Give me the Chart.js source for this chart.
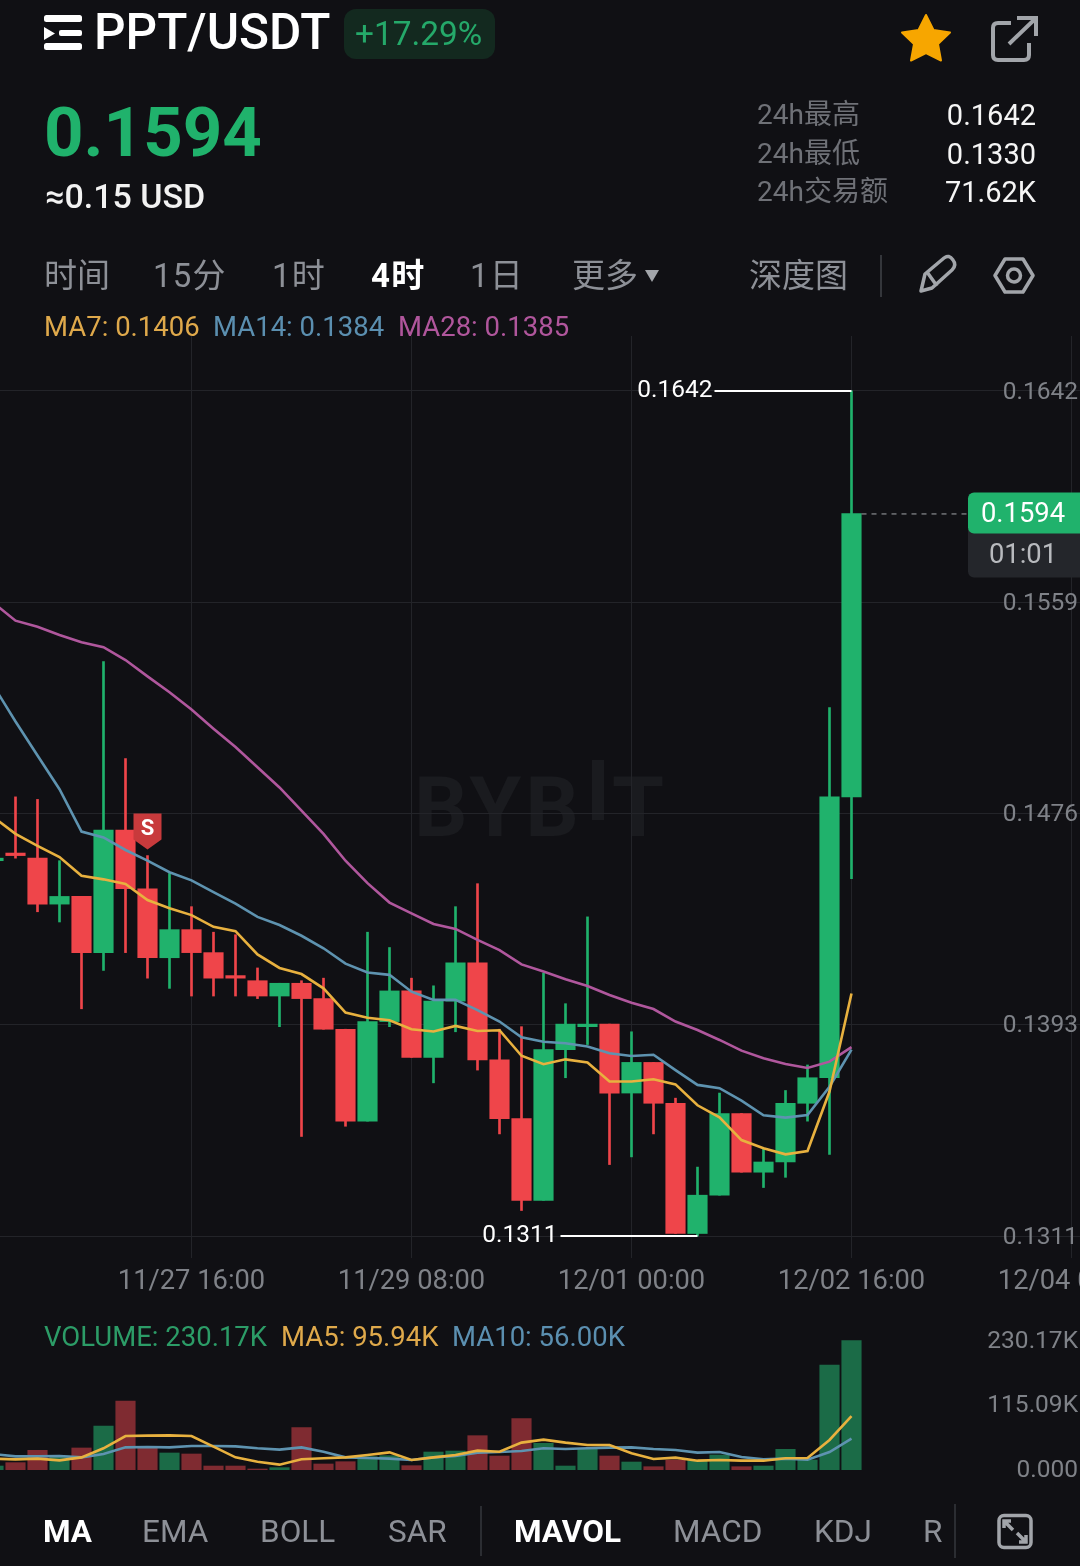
<!DOCTYPE html>
<html>
<head>
<meta charset="utf-8">
<title>PPT/USDT</title>
<script src="https://cdn.jsdelivr.net/npm/chart.js@4/dist/chart.umd.js"></script>
<style>
  html, body { margin: 0; padding: 0; background: #101014; }
  body { position: relative; width: 1080px; height: 1566px; overflow: hidden; font-family: Roboto, "Noto Sans CJK SC", sans-serif; }
  .t { position: absolute; white-space: nowrap; line-height: 1; transform: translateY(-50%); }
  .gray { color: #8d9097; font-size: 33px; }
  .on { color: #fff; font-size: 33px; font-weight: 700; }
  .sp { letter-spacing: 1.2px; }
  .stat { color: #6f7177; font-size: 28px; left: 757px; }
  .val { color: #f5f5f5; font-size: 29px; right: 44px; }
  .leg { font-size: 27.5px; }
  .tab { font-size: 31.5px; color: #8d9097; }
  .tabon { font-size: 31.5px; color: #fff; font-weight: 700; }
  canvas { position: absolute; left: 0; }
  svg { position: absolute; left: 0; top: 0; }
  .mark { position: absolute; color: #1a1b1f; font-weight: 700; font-size: 84px; line-height: 1; }
</style>
</head>
<body>

<div class="mark" style="left:414px;top:766px;letter-spacing:4px;">BYB</div>
<div class="mark" style="left:612px;top:766px;">T</div>
<div style="position:absolute;left:592px;top:760px;width:12px;height:60px;background:#1a1b1f;"></div>

<canvas id="mainChart" width="1080" height="962" style="top:336px;width:1080px;height:962px;"></canvas>
<canvas id="volChart" width="1080" height="150" style="top:1330px;width:1080px;height:150px;"></canvas>

<svg width="1080" height="1566" fill="none">
  <rect x="44" y="15" width="38" height="7" rx="2.5" fill="#fff"/>
  <rect x="59" y="30" width="23" height="6" rx="2" fill="#fff"/>
  <rect x="44" y="43" width="38" height="7" rx="2.5" fill="#fff"/>
  <path d="M44 27 L55 33.5 L44 40 Z" fill="#fff"/>
  <path d="M926 15 L933.5 30 L950 32.5 L938 44 L941 60.5 L926 53 L911 60.5 L914 44 L902 32.5 L918.5 30 Z" fill="#f7a600" stroke="#f7a600" stroke-width="2" stroke-linejoin="round"/>
  <path d="M1011 23 H998 Q993 23 993 28 V55 Q993 60 998 60 H1024 Q1029 60 1029 55 V43" stroke="#a2a5aa" stroke-width="4"/>
  <path d="M1009 44 L1035 19 M1017 18 H1036 V36" stroke="#a2a5aa" stroke-width="4"/>
  <path d="M645 270 H659 L652 282 Z" fill="#a2a5aa"/>
  <path d="M881 255 V297" stroke="#34363b" stroke-width="2"/>
  <path d="M921 291 L925 274 L944 258 Q949 254 953 260 Q957 265 952 270 L932 288 Z M927 272 L937 286" stroke="#a2a5aa" stroke-width="3.5" stroke-linejoin="round"/>
  <path d="M1005 259 H1023 L1033 275.5 L1023 292 H1005 L995 275.5 Z" stroke="#a2a5aa" stroke-width="3.5" stroke-linejoin="round"/>
  <circle cx="1014" cy="275.5" r="6.5" stroke="#a2a5aa" stroke-width="3.5"/>
  <path d="M481 1506 V1556 M955 1504 V1558" stroke="#2b2d32" stroke-width="2"/>
  <rect x="999" y="1515.5" width="32" height="32" rx="5" stroke="#a2a5aa" stroke-width="3.5"/>
  <path d="M1004 1521 L1013 1530 M1004 1528 V1521 H1011 M1026 1542 L1017 1533 M1019 1542 H1026 V1535" stroke="#a2a5aa" stroke-width="3.5"/>
</svg>

<div class="t" style="left:94px;top:33px;color:#fff;font-size:49.5px;font-weight:500;">PPT/USDT</div>
<div style="position:absolute;left:344px;top:9px;width:151px;height:50px;border-radius:12px;background:#13291f;"></div>
<div class="t" style="left:355px;top:34px;color:#25a96a;font-size:33.4px;">+17.29%</div>

<div class="t" style="left:44px;top:132px;color:#20b26c;font-size:69px;font-weight:700;">0.1594</div>
<div class="t" style="left:45px;top:196px;color:#f2f2f2;font-size:34px;font-weight:500;">≈0.15 USD</div>

<div class="t stat" style="top:115px;">24h最高</div>
<div class="t stat" style="top:154px;">24h最低</div>
<div class="t stat" style="top:192px;">24h交易额</div>
<div class="t val" style="top:115px;">0.1642</div>
<div class="t val" style="top:154px;">0.1330</div>
<div class="t val" style="top:192px;">71.62K</div>

<div class="t gray" style="left:44px;top:275px;">时间</div>
<div class="t gray sp" style="left:153px;top:275px;">15分</div>
<div class="t gray sp" style="left:272px;top:275px;">1时</div>
<div class="t on sp" style="left:371px;top:275px;">4时</div>
<div class="t gray sp" style="left:470px;top:275px;">1日</div>
<div class="t gray" style="left:572px;top:275px;">更多</div>
<div class="t gray" style="left:749px;top:275px;">深度图</div>

<div class="t leg" style="left:44px;top:327px;color:#dfa94b;">MA7: 0.1406</div>
<div class="t leg" style="left:213px;top:327px;color:#5b8fb0;">MA14: 0.1384</div>
<div class="t leg" style="left:398px;top:327px;color:#b0569c;">MA28: 0.1385</div>

<div class="t leg" style="left:44px;top:1337px;color:#2c9c67;">VOLUME: 230.17K</div>
<div class="t leg" style="left:281px;top:1337px;color:#dfa94b;">MA5: 95.94K</div>
<div class="t leg" style="left:452px;top:1337px;color:#5b8fb0;">MA10: 56.00K</div>

<div class="t tabon" style="left:43px;top:1532px;">MA</div>
<div class="t tab" style="left:142px;top:1532px;">EMA</div>
<div class="t tab" style="left:260px;top:1532px;">BOLL</div>
<div class="t tab" style="left:388px;top:1532px;">SAR</div>
<div class="t tabon" style="left:514px;top:1532px;">MAVOL</div>
<div class="t tab" style="left:673px;top:1532px;">MACD</div>
<div class="t tab" style="left:814px;top:1532px;">KDJ</div>
<div class="t tab" style="left:923px;top:1532px;">R</div>

<script>
"use strict";

// gridline prices are evenly spaced, the labels show them rounded
const priceTicks = [0.1642, 0.15593, 0.14766, 0.13939, 0.1311];
const priceTickLabels = ["0.1642", "0.1559", "0.1476", "0.1393", "0.1311"];
const timeIndex = [9, 19, 29, 39, 49];
const timeTicks = ["11/27 16:00", "11/29 08:00", "12/01 00:00", "12/02 16:00", "12/04 08:00"];
const volTicks = [230.17, 115.09, 0];
const volTickLabels = ["230.17K", "115.09K", "0.000"];

const opens = [0.1458, 0.1461, 0.1459, 0.1441, 0.1444, 0.1422, 0.1470, 0.1447, 0.1420, 0.1431,
  0.1422, 0.1413, 0.1411, 0.1405, 0.1410, 0.1404, 0.1392, 0.1356, 0.1395, 0.1407,
  0.1381, 0.1403, 0.1418, 0.1380, 0.1357, 0.1325, 0.1384, 0.1393, 0.1394, 0.1367,
  0.1379, 0.1363, 0.1312, 0.1327, 0.1359, 0.1336, 0.1340, 0.1363, 0.1373, 0.1483];
const closes = [0.1459, 0.1460, 0.1441, 0.1444, 0.1422, 0.1470, 0.1447, 0.1420, 0.1431, 0.1422,
  0.1412, 0.1412, 0.1405, 0.1410, 0.1404, 0.1392, 0.1356, 0.1395, 0.1407, 0.1381,
  0.1403, 0.1418, 0.1380, 0.1357, 0.1325, 0.1384, 0.1394, 0.1394, 0.1367, 0.1379,
  0.1363, 0.1312, 0.1327, 0.1359, 0.1336, 0.1340, 0.1363, 0.1373, 0.1483, 0.1594];
const highs = [0.1459, 0.1483, 0.1482, 0.1458, 0.1444, 0.1536, 0.1498, 0.1460, 0.1453, 0.1440,
  0.1430, 0.1429, 0.1416, 0.1410, 0.1411, 0.1412, 0.1392, 0.1430, 0.1424, 0.1412,
  0.1409, 0.1440, 0.1449, 0.1392, 0.1393, 0.1414, 0.1402, 0.1436, 0.1394, 0.1391,
  0.1379, 0.1365, 0.1338, 0.1367, 0.1359, 0.1345, 0.1368, 0.1378, 0.1518, 0.1642];
const lows = [0.1458, 0.1459, 0.1438, 0.1434, 0.1400, 0.1415, 0.1422, 0.1412, 0.1408, 0.1405,
  0.1405, 0.1405, 0.1404, 0.1393, 0.1350, 0.1392, 0.1354, 0.1356, 0.1393, 0.1381,
  0.1371, 0.1391, 0.1376, 0.1351, 0.1321, 0.1325, 0.1373, 0.1386, 0.1339, 0.1342,
  0.1351, 0.1312, 0.1311, 0.1327, 0.1336, 0.1330, 0.1334, 0.1356, 0.1343, 0.1451];

const ma7 = [0.14750, 0.14685, 0.14638, 0.14594, 0.14521, 0.14507, 0.14489, 0.14426, 0.14394, 0.14367,
  0.14321, 0.14304, 0.14213, 0.14160, 0.14136, 0.14080, 0.13985, 0.13965, 0.13955, 0.13920,
  0.13911, 0.13933, 0.13913, 0.13916, 0.13816, 0.13783, 0.13802, 0.13790, 0.13715, 0.13715,
  0.13724, 0.13704, 0.13622, 0.13575, 0.13486, 0.13454, 0.13430, 0.13443, 0.13676, 0.14060];
const ma14 = [0.15265, 0.15125, 0.14992, 0.14860, 0.14694, 0.14671, 0.14622, 0.14580, 0.14535, 0.14503,
  0.14457, 0.14412, 0.14360, 0.14328, 0.14286, 0.14237, 0.14177, 0.14142, 0.14133, 0.14067,
  0.14035, 0.14035, 0.13995, 0.13950, 0.13888, 0.13871, 0.13865, 0.13852, 0.13826, 0.13815,
  0.13820, 0.13760, 0.13702, 0.13689, 0.13640, 0.13583, 0.13574, 0.13584, 0.13695, 0.13840];
const ma28 = [0.15590, 0.15520, 0.15496, 0.15464, 0.15436, 0.15416, 0.15366, 0.15302, 0.15240, 0.15172,
  0.15097, 0.15025, 0.14946, 0.14867, 0.14776, 0.14685, 0.14580, 0.14492, 0.14416, 0.14374,
  0.14332, 0.14313, 0.14270, 0.14230, 0.14174, 0.14146, 0.14116, 0.14089, 0.14054, 0.14024,
  0.13999, 0.13950, 0.13917, 0.13878, 0.13836, 0.13806, 0.13784, 0.13768, 0.13793, 0.13850];

// volume in thousands
const volumes = [7.1, 13.1, 35.0, 24.9, 39.2, 78.3, 122.8, 38.6, 30.3, 28.5,
  7.1, 7.1, 1.8, 4.2, 75.3, 10.7, 14.8, 23.7, 25.5, 7.7,
  32.0, 33.8, 61.1, 24.9, 91.4, 47.5, 7.1, 38.6, 24.9, 14.2,
  5.9, 17.8, 16.6, 26.7, 5.9, 7.1, 36.8, 17.8, 186.9, 230.17];
const volMa5 = [20.2, 19.0, 20.2, 17.2, 22.5, 38.6, 60.5, 61.1, 61.7, 60.5,
  41.5, 22.5, 14.8, 9.5, 19.0, 20.8, 22.5, 26.7, 31.4, 17.8,
  22.5, 26.7, 34.4, 32.6, 48.7, 54.0, 48.7, 44.5, 44.5, 29.7,
  19.6, 22.0, 16.6, 17.8, 16.6, 16.6, 20.8, 21.4, 53.4, 95.94];
const volMa10 = [28.5, 24.3, 24.3, 24.9, 22.5, 28.5, 40.3, 40.9, 40.3, 42.7,
  42.7, 42.1, 38.6, 36.2, 40.3, 32.6, 22.5, 21.4, 20.2, 17.8,
  22.5, 24.9, 30.9, 32.0, 33.8, 38.6, 37.4, 38.6, 39.8, 40.3,
  37.4, 35.6, 30.9, 32.0, 23.1, 19.0, 20.2, 18.4, 32.0, 56.0];

const lastPrice = 0.1594;
const maxPrice = 0.1642;
const minPrice = 0.1311;
const sellIndex = 7;

const GREEN = "#20b26c";
const RED = "#ef454a";
const YELLOW = "#e8b13f";
const BLUE = "#5e93b0";
const PINK = "#b0579d";
const TICK_COLOR = "#7f8288";

Chart.defaults.animation = false;
Chart.defaults.font.family = "Roboto";
Chart.defaults.plugins.legend.display = false;
Chart.defaults.plugins.tooltip.enabled = false;

function points(values) {
  return values.map((v, i) => ({ x: i, y: v }));
}

function lineSet(values, color) {
  return {
    type: "line",
    data: points(values),
    borderColor: color,
    borderWidth: 2.6,
    pointRadius: 0,
    tension: 0,
    order: 0,
  };
}

function candleColors() {
  return closes.map((c, i) => (c >= opens[i] ? GREEN : RED));
}

// no auto room round the plot, the labels sit on top of it
function noPadding(s) {
  s.paddingTop = s.paddingBottom = s.paddingLeft = s.paddingRight = 0;
}

// annotations on top of the candles: high/low marks, last price tag, sell flag
const priceMarks = {
  id: "priceMarks",
  afterDraw(chart) {
    const { ctx } = chart;
    const x = chart.scales.x;
    const y = chart.scales.y;
    ctx.save();
    ctx.textBaseline = "middle";

    const xMax = x.getPixelForValue(highs.indexOf(maxPrice));
    const yMax = y.getPixelForValue(maxPrice);
    const xMin = x.getPixelForValue(lows.indexOf(minPrice));
    const yMin = y.getPixelForValue(minPrice);
    ctx.strokeStyle = "#fff";
    ctx.fillStyle = "#fff";
    ctx.lineWidth = 2;
    ctx.font = "24.5px Roboto";
    ctx.textAlign = "right";
    ctx.beginPath();
    ctx.moveTo(xMax - 137, yMax);
    ctx.lineTo(xMax, yMax);
    ctx.moveTo(xMin - 137, yMin);
    ctx.lineTo(xMin, yMin);
    ctx.stroke();
    ctx.fillText(maxPrice.toFixed(4), xMax - 139, yMax);
    ctx.fillText(minPrice.toFixed(4), xMin - 140, yMin);

    // dashed line to the tag
    const yLast = y.getPixelForValue(lastPrice);
    ctx.strokeStyle = "#a2a5aa";
    ctx.lineWidth = 1;
    ctx.setLineDash([5, 5]);
    ctx.beginPath();
    ctx.moveTo(x.getPixelForValue(39) + 10, yLast + 0.5);
    ctx.lineTo(968, yLast + 0.5);
    ctx.stroke();
    ctx.setLineDash([]);

    ctx.fillStyle = "#24262b";
    ctx.beginPath();
    ctx.roundRect(968, yLast + 15, 120, 49, [0, 0, 0, 6]);
    ctx.fill();
    ctx.fillStyle = GREEN;
    ctx.beginPath();
    ctx.roundRect(968, yLast - 21, 120, 41, [6, 0, 0, 6]);
    ctx.fill();
    ctx.textAlign = "center";
    ctx.font = "27.4px Roboto";
    ctx.fillStyle = "#fff";
    ctx.fillText(lastPrice.toFixed(4), 1023, yLast + 2);
    ctx.fillStyle = "#b8babe";
    ctx.fillText("01:01", 1023, yLast + 43);

    // sell flag just over the candle
    const sx = x.getPixelForValue(sellIndex);
    const sy = y.getPixelForValue(highs[sellIndex]) - 6;
    ctx.fillStyle = "#c83a3c";
    ctx.beginPath();
    ctx.moveTo(sx - 14, sy - 36);
    ctx.lineTo(sx + 14, sy - 36);
    ctx.lineTo(sx + 14, sy - 10);
    ctx.lineTo(sx, sy);
    ctx.lineTo(sx - 14, sy - 10);
    ctx.closePath();
    ctx.fill();
    ctx.fillStyle = "#fff";
    ctx.font = "bold 22px Roboto";
    ctx.fillText("S", sx, sy - 20);
    ctx.restore();
  },
};

const xRange = { min: 6.5 / 22, max: 1086.5 / 22 };

new Chart(document.getElementById("mainChart"), {
  type: "bar",
  data: {
    datasets: [
      lineSet(ma7, YELLOW),
      lineSet(ma14, BLUE),
      lineSet(ma28, PINK),
      {
        data: opens.map((o, i) => ({ x: i, y: [o, closes[i]] })),
        backgroundColor: candleColors(),
        barThickness: 19.5,
        minBarLength: 2,
        grouped: false,
        order: 1,
      },
      {
        data: lows.map((l, i) => ({ x: i, y: [l, highs[i]] })),
        backgroundColor: candleColors(),
        barThickness: 2,
        grouped: false,
        order: 2,
      },
    ],
  },
  options: {
    responsive: false,
    layout: { autoPadding: false },
    scales: {
      x: {
        type: "linear",
        offset: false,
        min: xRange.min,
        max: xRange.max,
        afterBuildTicks: (s) => { s.ticks = timeIndex.map((v) => ({ value: v })); },
        afterFit: (s) => { s.height = 40; noPadding(s); },
        grid: { color: "#232429", drawTicks: false, offset: false },
        border: { display: false },
        ticks: {
          autoSkip: false,
          maxRotation: 0,
          padding: 8,
          color: TICK_COLOR,
          font: { size: 27.3 },
          callback: (v) => timeTicks[timeIndex.indexOf(v)],
        },
      },
      y: {
        position: "right",
        min: 0.13024,
        max: 0.16635,
        afterBuildTicks: (s) => { s.ticks = priceTicks.map((v) => ({ value: v })); },
        afterFit: (s) => { s.width = 0; noPadding(s); },
        grid: { color: "#232429", drawTicks: false },
        border: { display: false },
        ticks: {
          mirror: true,
          padding: -2,
          labelOffset: 1.5,
          color: TICK_COLOR,
          font: { size: 24.5 },
          callback: (v) => priceTickLabels[priceTicks.indexOf(v)],
        },
      },
    },
  },
  plugins: [priceMarks],
});

new Chart(document.getElementById("volChart"), {
  type: "bar",
  data: {
    datasets: [
      lineSet(volMa5, YELLOW),
      lineSet(volMa10, BLUE),
      {
        data: points(volumes),
        backgroundColor: closes.map((c, i) => (c >= opens[i] ? "#1b6b47" : "#7f2b31")),
        barThickness: 19.5,
        grouped: false,
        order: 1,
      },
    ],
  },
  options: {
    responsive: false,
    layout: { autoPadding: false, padding: { bottom: 10 } },
    scales: {
      x: { type: "linear", offset: false, min: xRange.min, max: xRange.max, display: false },
      y: {
        position: "right",
        min: 0,
        max: 249.2,
        afterBuildTicks: (s) => { s.ticks = volTicks.map((v) => ({ value: v })); },
        afterFit: (s) => { s.width = 0; noPadding(s); },
        grid: { display: false },
        border: { display: false },
        ticks: {
          mirror: true,
          padding: -2,
          labelOffset: 1,
          color: TICK_COLOR,
          font: { size: 24.5 },
          callback: (v) => volTickLabels[volTicks.indexOf(v)],
        },
      },
    },
  },
});
</script>
</body>
</html>
